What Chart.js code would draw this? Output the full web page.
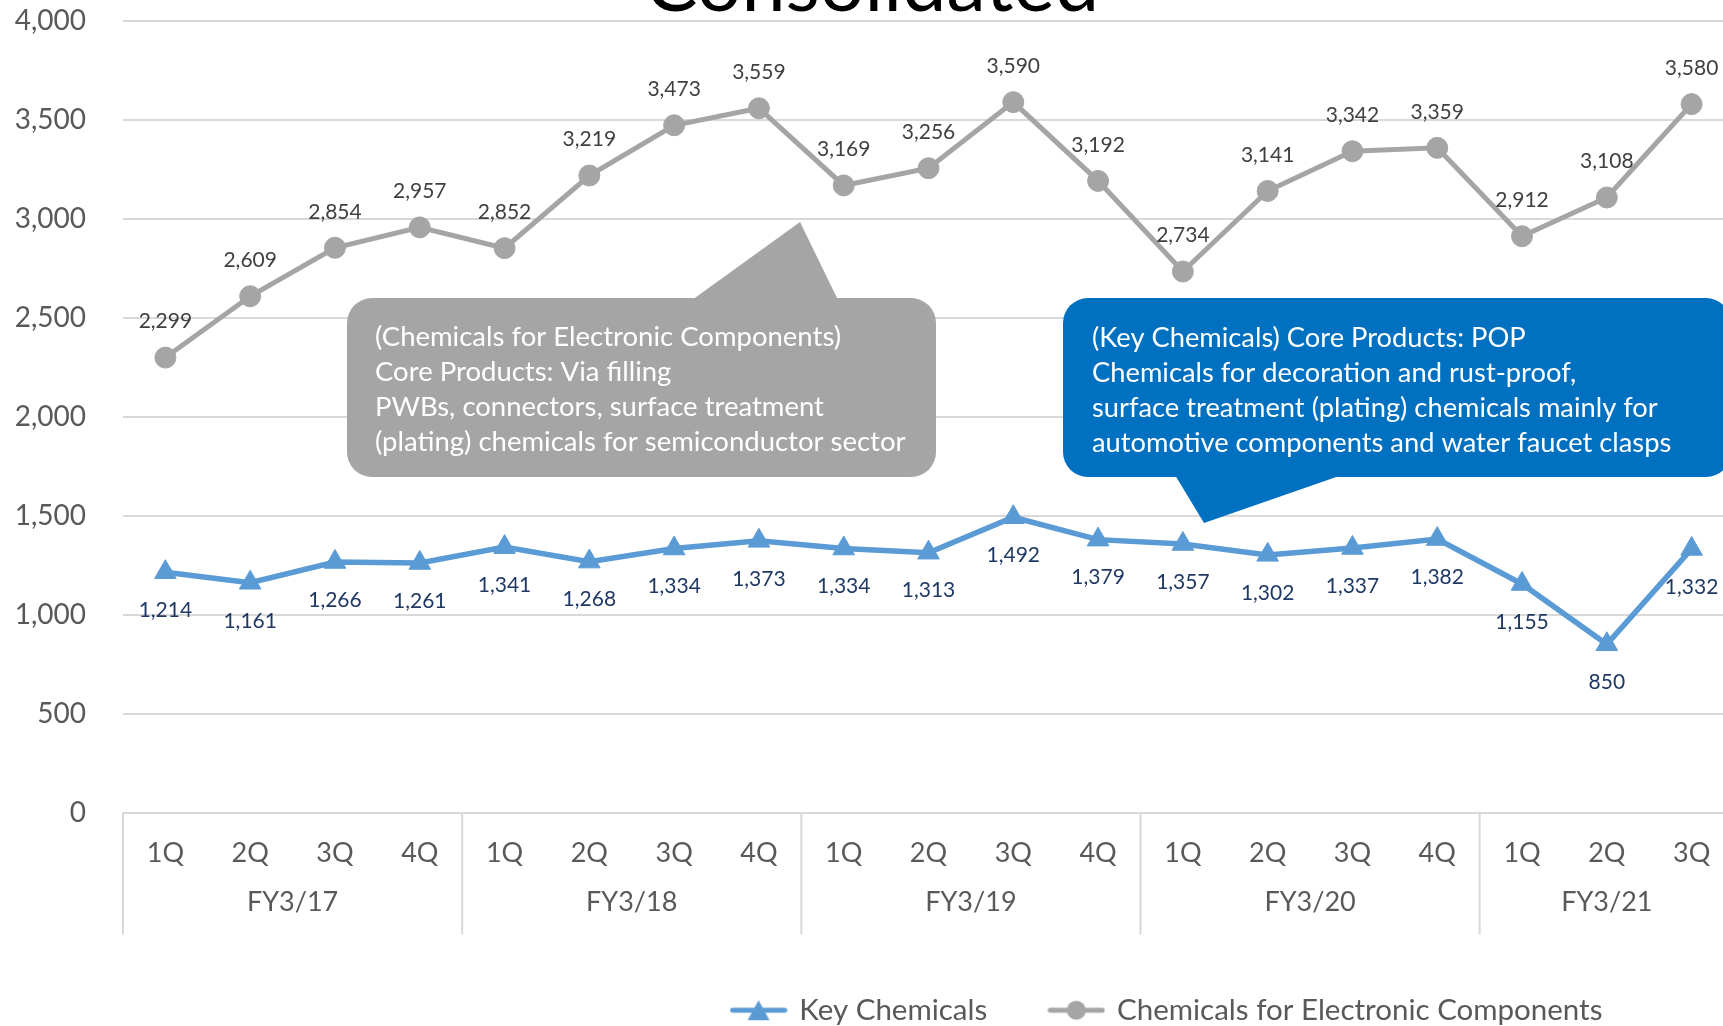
<!DOCTYPE html>
<html>
<head>
<meta charset="utf-8">
<title>Consolidated</title>
<script src="https://cdn.jsdelivr.net/npm/chart.js@4.4.1/dist/chart.umd.min.js"></script>
<style>
  html, body { margin: 0; padding: 0; background: #fff; overflow: hidden; }
  #wrap { position: absolute; left: 0; top: 0; }
</style>
</head>
<body>
<div id="wrap"><canvas id="salesChart" width="2335" height="1035"></canvas></div>
<script>
// quarterly sales, two segments
const quarters = ['1Q', '2Q', '3Q', '4Q', '1Q', '2Q', '3Q', '4Q', '1Q', '2Q', '3Q', '4Q',
                  '1Q', '2Q', '3Q', '4Q', '1Q', '2Q', '3Q'];
const fiscalYears = ['FY3/17', 'FY3/18', 'FY3/19', 'FY3/20', 'FY3/21'];
const quartersInYear = [4, 4, 4, 4, 3];

const keyChemicals = [1214, 1161, 1266, 1261, 1341, 1268, 1334, 1373, 1334, 1313,
                      1492, 1379, 1357, 1302, 1337, 1382, 1155, 850, 1332];
const electronicComponents = [2299, 2609, 2854, 2957, 2852, 3219, 3473, 3559, 3169, 3256,
                              3590, 3192, 2734, 3141, 3342, 3359, 2912, 3108, 3580];

const yMax = 4000;
const yStep = 500;

const electronicNote = [
    '(Chemicals for Electronic Components)',
    'Core Products: Via filling',
    'PWBs, connectors, surface treatment',
    '(plating) chemicals for semiconductor sector'
];
const keyNote = [
    '(Key Chemicals) Core Products: POP',
    'Chemicals for decoration and rust-proof,',
    'surface treatment (plating) chemicals mainly for',
    'automotive components and water faucet clasps'
];

const BLUE = '#5b9bd5';
const GREY = '#a5a5a5';
const FONT = 'Lato';

Chart.defaults.font.family = FONT;
Chart.defaults.color = '#595959';

// little line+marker swatches for the legend
function legendSwatch(color, shape) {
    const c = document.createElement('canvas');
    c.width = 58;
    c.height = 26;
    const g = c.getContext('2d');
    g.strokeStyle = color;
    g.fillStyle = color;
    g.lineWidth = 5;
    g.lineCap = 'round';
    g.beginPath();
    g.moveTo(3, 13);
    g.lineTo(55, 13);
    g.stroke();
    g.beginPath();
    if (shape === 'triangle') {
        g.moveTo(29, 3);
        g.lineTo(40, 23);
        g.lineTo(18, 23);
        g.closePath();
    } else {
        g.arc(29, 13, 9.5, 0, Math.PI * 2);
    }
    g.fill();
    return c;
}
const swatches = [legendSwatch(BLUE, 'triangle'), legendSwatch(GREY, 'circle')];

const fmt = v => v.toLocaleString('en-US');

// value labels: grey above the points, blue below
const valueLabels = {
    id: 'valueLabels',
    afterDatasetsDraw(chart) {
        const ctx = chart.ctx;
        ctx.save();
        ctx.font = '21px ' + FONT;
        ctx.textAlign = 'center';
        ctx.textBaseline = 'middle';
        chart.data.datasets.forEach((ds, i) => {
            const meta = chart.getDatasetMeta(i);
            const below = ds.label === 'Key Chemicals';
            ctx.fillStyle = below ? '#1f3864' : '#404040';
            meta.data.forEach((pt, j) => {
                ctx.fillText(fmt(ds.data[j]), pt.x, below ? pt.y + 38 : pt.y - 36);
            });
        });
        ctx.restore();
    }
};

// fiscal-year row under the quarter labels, with separators
const yearAxis = {
    id: 'yearAxis',
    afterDraw(chart) {
        const ctx = chart.ctx;
        const x = chart.scales.x;
        const bottom = chart.chartArea.bottom;
        const half = (x.getPixelForValue(1) - x.getPixelForValue(0)) / 2;
        ctx.save();
        ctx.strokeStyle = '#d9d9d9';
        ctx.lineWidth = 2;
        ctx.font = '27px ' + FONT;
        ctx.fillStyle = '#595959';
        ctx.textAlign = 'center';
        ctx.textBaseline = 'middle';
        let start = 0;
        fiscalYears.forEach((fy, i) => {
            const n = quartersInYear[i];
            const left = x.getPixelForValue(start) - half;
            const right = x.getPixelForValue(start + n - 1) + half;
            ctx.beginPath();
            ctx.moveTo(left, bottom);
            ctx.lineTo(left, bottom + 122);
            ctx.stroke();
            ctx.fillText(fy, (left + right) / 2, bottom + 90);
            start += n;
        });
        ctx.restore();
    }
};

function callout(ctx, box, tip, color, lines, font, textX, firstY, lineGap) {
    ctx.fillStyle = color;
    ctx.beginPath();
    ctx.roundRect(box.x, box.y, box.w, box.h, 25);
    ctx.fill();
    ctx.beginPath();
    ctx.moveTo(tip[0][0], tip[0][1]);
    ctx.lineTo(tip[1][0], tip[1][1]);
    ctx.lineTo(tip[2][0], tip[2][1]);
    ctx.closePath();
    ctx.fill();
    ctx.fillStyle = '#ffffff';
    ctx.font = font;
    ctx.textAlign = 'left';
    ctx.textBaseline = 'middle';
    lines.forEach((t, i) => ctx.fillText(t, textX, firstY + i * lineGap));
}

const notes = {
    id: 'notes',
    afterDraw(chart) {
        const ctx = chart.ctx;
        ctx.save();
        callout(ctx, {x: 347, y: 298, w: 589, h: 179},
                [[692, 300], [800, 222], [838, 300]],
                GREY, electronicNote, '27.5px ' + FONT, 375, 337, 35);
        callout(ctx, {x: 1063, y: 298, w: 668, h: 179},
                [[1175, 475], [1204, 523], [1342, 475]],
                '#0070c0', keyNote, '27.3px ' + FONT, 1092, 338, 35);
        // heading, mostly above the top edge
        ctx.fillStyle = '#000000';
        ctx.font = '79px ' + FONT;
        ctx.textAlign = 'center';
        ctx.textBaseline = 'alphabetic';
        ctx.fillText('Consolidated', 872, 11);
        ctx.restore();
    }
};

new Chart(document.getElementById('salesChart'), {
    type: 'line',
    data: {
        labels: quarters,
        datasets: [
            {
                label: 'Key Chemicals',
                data: keyChemicals,
                borderColor: BLUE,
                backgroundColor: BLUE,
                borderWidth: 5.5,
                pointStyle: 'triangle',
                pointRadius: 12.5,
                pointBorderWidth: 1,
                tension: 0
            },
            {
                label: 'Chemicals for Electronic Components',
                data: electronicComponents,
                borderColor: GREY,
                backgroundColor: GREY,
                borderWidth: 5,
                pointStyle: 'circle',
                pointRadius: 10.5,
                pointBorderWidth: 1,
                tension: 0
            }
        ]
    },
    options: {
        responsive: false,
        animation: false,
        layout: { padding: { top: 21, left: 0, right: 0, bottom: 0 } },
        plugins: {
            title: { display: false },
            tooltip: { enabled: false },
            legend: {
                position: 'bottom',
                labels: {
                    usePointStyle: true,
                    pointStyleWidth: 52,
                    padding: 63,
                    color: '#595959',
                    font: { size: 29.5, family: FONT },
                    generateLabels(chart) {
                        const items = Chart.defaults.plugins.legend.labels.generateLabels(chart);
                        items.forEach((it, i) => { it.pointStyle = swatches[i]; });
                        return items;
                    }
                }
            }
        },
        scales: {
            x: {
                offset: true,
                grid: { display: false },
                border: { display: false },
                ticks: {
                    font: { size: 27 },
                    color: '#595959',
                    padding: 17,
                    maxRotation: 0,
                    autoSkip: false
                },
                afterFit(s) { s.height = 120; }
            },
            y: {
                min: 0,
                max: yMax,
                grid: {
                    color: '#d9d9d9',
                    lineWidth: 2,
                    drawTicks: true,
                    tickLength: 37,
                    tickColor: 'transparent'
                },
                border: { display: false },
                ticks: {
                    stepSize: yStep,
                    font: { size: 28 },
                    color: '#595959',
                    padding: 0,
                    callback: v => fmt(v)
                },
                afterFit(s) { s.width = 123; }
            },
            // empty right-hand axis: reserves the space the legend is centred in
            spare: {
                position: 'right',
                display: true,
                grid: { display: false },
                border: { display: false },
                ticks: { display: false },
                afterFit(s) { s.width = 601; }
            }
        }
    },
    plugins: [valueLabels, yearAxis, notes]
});
</script>
</body>
</html>
